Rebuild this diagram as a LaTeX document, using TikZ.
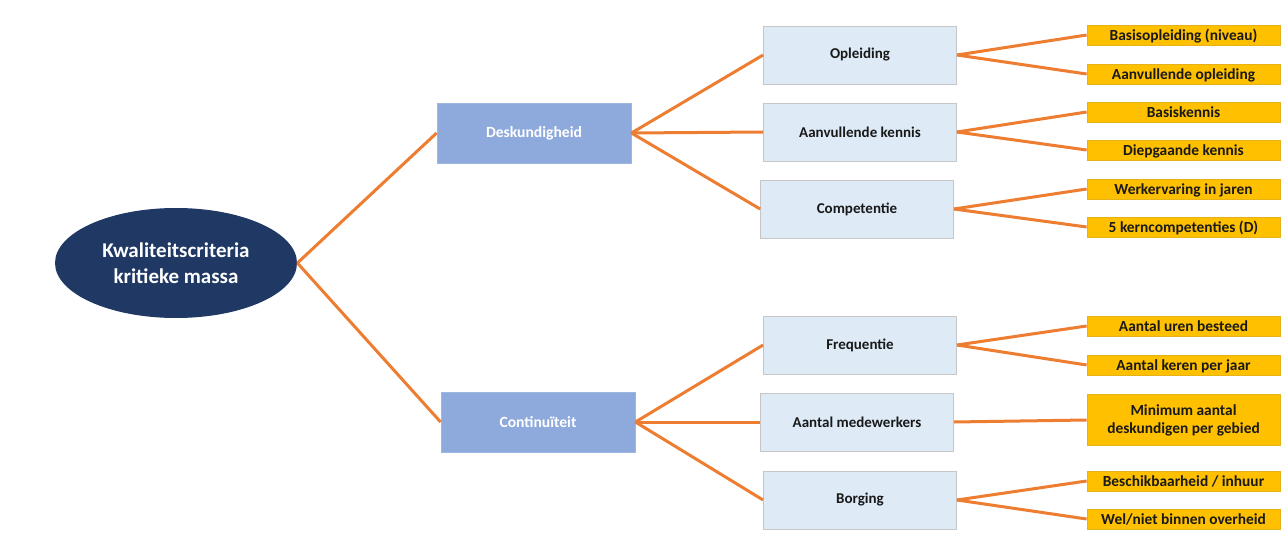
\documentclass[tikz,border=0pt]{standalone}
\usepackage{fontspec}
\setmainfont{Carlito}
\usetikzlibrary{shapes.geometric}
\definecolor{donkerblauw}{HTML}{1F3864}
\definecolor{middenblauw}{HTML}{8EA9DB}
\definecolor{lichtblauw}{HTML}{DEEBF7}
\definecolor{geel}{HTML}{FFC000}
\definecolor{oranje}{HTML}{ED7D31}
\begin{document}
\begin{tikzpicture}[x=0.5pt,y=-0.5pt,
    wortel/.style={ellipse,fill=donkerblauw,text=white,align=center,inner sep=0pt,
        minimum width=121pt,minimum height=55pt,font=\bfseries\fontsize{10.5}{13}\selectfont},
    hoofd/.style={fill=middenblauw,draw=middenblauw!85!white,text=white,
        minimum width=97pt,minimum height=30pt,font=\bfseries\fontsize{7.8}{10}\selectfont},
    sub/.style={fill=lichtblauw,draw=gray!45,text=black!90,
        minimum width=96.5pt,minimum height=29pt,font=\bfseries\fontsize{7.5}{9}\selectfont},
    geelvak/.style={fill=geel,draw=geel!80!gray,text=black!90,align=center,inner sep=0pt,
        minimum width=96.5pt,font=\bfseries\fontsize{7.7}{9}\selectfont},
    blad/.style={geelvak,text height=5.4pt,text depth=0pt,minimum height=10pt},
    lijn/.style={draw=oranje,line width=1.5pt}]
\useasboundingbox (0,0) rectangle (1285,540);
\node[wortel](kk) at (176,263){Kwaliteitscriteria\\kritieke massa};
\node[hoofd](desk) at (534,133){Deskundigheid};
\node[hoofd](cont) at (538,422){Continuïteit};
\node[sub](opl) at (860,55){Opleiding};
\node[sub](kennis) at (860,132){Aanvullende kennis};
\node[sub](comp) at (857,209){Competentie};
\node[sub](freq) at (860,345){Frequentie};
\node[sub](medew) at (857,422){Aantal medewerkers};
\node[sub](borg) at (860,500){Borging};
\node[blad](b1) at (1183.5,35){Basisopleiding (niveau)};
\node[blad](b2) at (1183.5,74){Aanvullende opleiding};
\node[blad](b3) at (1183.5,112){Basiskennis};
\node[blad](b4) at (1183.5,150){Diepgaande kennis};
\node[blad](b5) at (1183.5,189){Werkervaring in jaren};
\node[blad](b6) at (1183.5,227){5 kerncompetenties (D)};
\node[blad](b7) at (1183.5,326){Aantal uren besteed};
\node[blad](b8) at (1183.5,365){Aantal keren per jaar};
\node[geelvak,minimum height=25.5pt](b9) at (1183.5,420){Minimum aantal\\deskundigen per gebied};
\node[blad](b10) at (1183.5,481){Beschikbaarheid / inhuur};
\node[blad](b11) at (1183.5,519){Wel/niet binnen overheid};
\draw[lijn](kk.east)--(desk.west);
\draw[lijn](kk.east)--(cont.west);
\foreach \s in {opl,kennis,comp}
    \draw[lijn](desk.east)--(\s.west);
\foreach \s in {freq,medew,borg}
    \draw[lijn](cont.east)--(\s.west);
\foreach \s/\b in {opl/b1,opl/b2,kennis/b3,kennis/b4,comp/b5,comp/b6,freq/b7,freq/b8,medew/b9,borg/b10,borg/b11}
    \draw[lijn](\s.east)--(\b.west);
\end{tikzpicture}
\end{document}
